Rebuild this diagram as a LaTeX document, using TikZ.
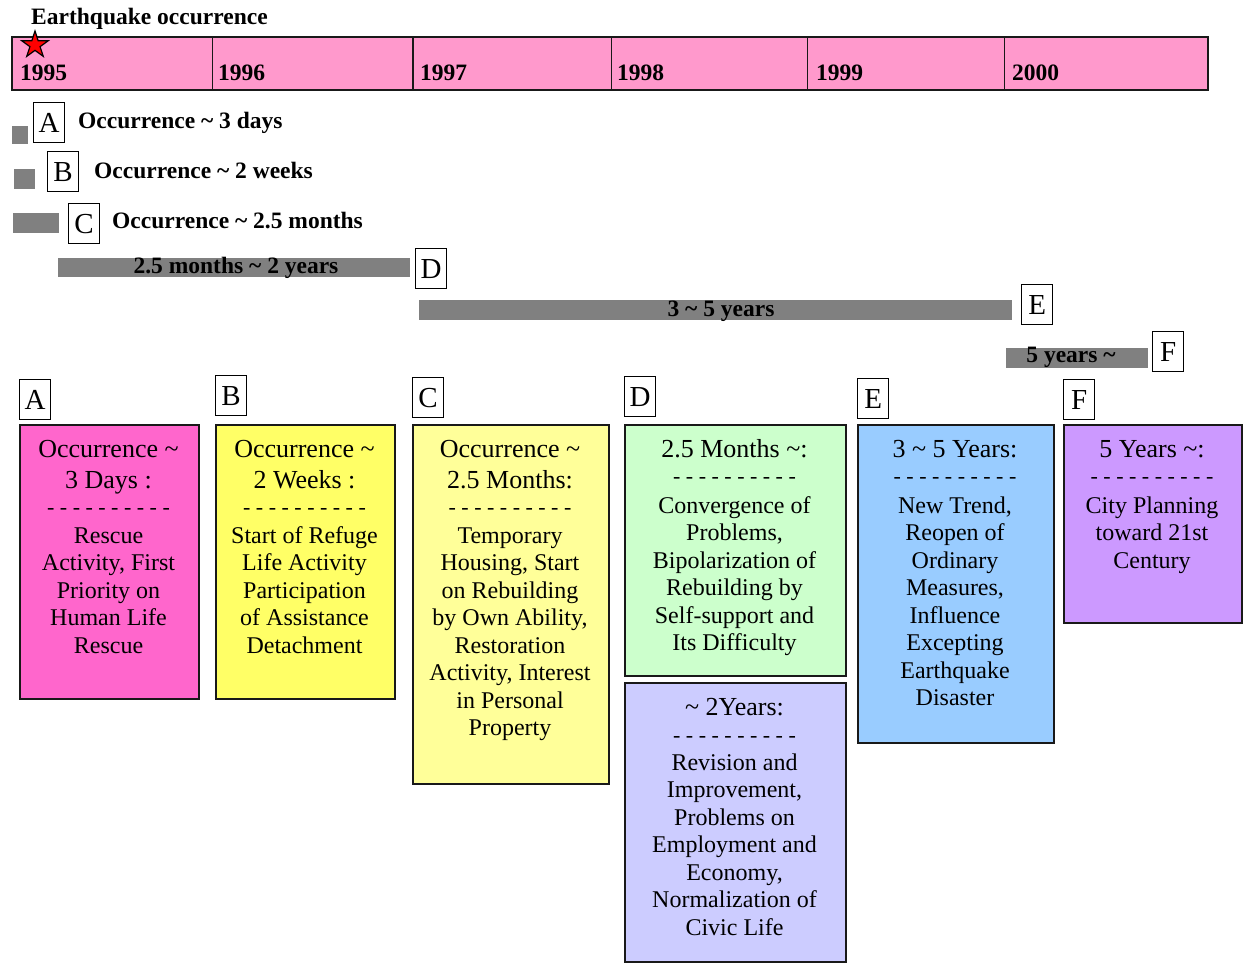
\documentclass[tikz,border=0pt]{standalone}
\usepackage{fontspec}
\setmainfont{Liberation Serif}
\usetikzlibrary{shapes.geometric}
\definecolor{timepink}{HTML}{FF99CC}
\definecolor{barGray}{HTML}{808080}
\definecolor{colA}{HTML}{FF66CC}
\definecolor{colB}{HTML}{FFFF66}
\definecolor{colC}{HTML}{FFFF99}
\definecolor{colDa}{HTML}{CCFFCC}
\definecolor{colDb}{HTML}{CCCCFF}
\definecolor{colE}{HTML}{99CCFF}
\definecolor{colF}{HTML}{CC99FF}
\newcommand\mytilde{\textasciitilde}
\begin{document}
\begin{tikzpicture}[x=1pt,y=-1pt,
  boldlabel/.style={font=\fontsize{23.5}{28}\selectfont\bfseries, inner sep=0pt, anchor=base west},
  barlabel/.style={font=\fontsize{23.5}{28}\selectfont\bfseries, inner sep=0pt, anchor=base},
  yearlabel/.style={font=\fontsize{23.5}{28}\selectfont\bfseries, inner sep=0pt, anchor=base west},
  graybar/.style={fill=barGray, inner sep=0pt, anchor=north west},
  letterbox/.style={draw=black, line width=1.3pt, fill=white, minimum width=31pt, minimum height=40pt,
    inner sep=0pt, text height=19pt, text depth=0pt, font=\fontsize{29}{30}\selectfont, anchor=north west},
  stagebox/.style={draw=black!90, line width=1.8pt, inner sep=0pt, anchor=north west},
  header/.style={font=\fontsize{26}{30}\selectfont, inner sep=0pt, anchor=base},
  bodytext/.style={font=\fontsize{24}{27.5}\selectfont, inner sep=0pt, anchor=base},
  dashline/.style={font=\fontsize{22}{26}\selectfont, inner sep=0pt, anchor=base},
]
\useasboundingbox (0,0) rectangle (1243,962);

% ---------- timeline ----------
\node[boldlabel] (title) at (31,24) {Earthquake occurrence};
\node[draw=black!90, line width=1.6pt, fill=timepink, inner sep=0pt, anchor=north west,
  minimum width=1196pt, minimum height=53pt] (timeline) at (11,36) {};
\foreach \xx in {212.5,413,611.5,807.5,1004.5}
  \draw[line width=1.6pt, black!90] (\xx,36) -- (\xx,89);
\node[yearlabel] (y1995) at (20,80) {1995};
\node[yearlabel] (y1996) at (218,80) {1996};
\node[yearlabel] (y1997) at (420,80) {1997};
\node[yearlabel] (y1998) at (617,80) {1998};
\node[yearlabel] (y1999) at (816,80) {1999};
\node[yearlabel] (y2000) at (1012,80) {2000};
\node[star, star points=5, star point ratio=2.618, fill=red, draw=black, line width=1.2pt,
  minimum size=28pt, inner sep=0pt] (quake) at (35,45) {};

% ---------- gray duration bars ----------
\node[graybar, minimum width=16pt, minimum height=18pt] (barA) at (12,126) {};
\node[letterbox] (topA) at (33,102) {A};
\node[boldlabel] (txtA) at (78,128) {Occurrence \mytilde\ 3 days};

\node[graybar, minimum width=21pt, minimum height=20pt] (barB) at (14,169) {};
\node[letterbox] (topB) at (47,151) {B};
\node[boldlabel] (txtB) at (94,178) {Occurrence \mytilde\ 2 weeks};

\node[graybar, minimum width=46pt, minimum height=20pt] (barC) at (13,213) {};
\node[letterbox] (topC) at (68,203) {C};
\node[boldlabel] (txtC) at (112,228) {Occurrence \mytilde\ 2.5 months};

\node[graybar, minimum width=352pt, minimum height=19pt] (barD) at (58,258) {};
\node[barlabel] (txtD) at (236,273) {2.5 months \mytilde\ 2 years};
\node[letterbox] (topD) at (415,248) {D};

\node[graybar, minimum width=593pt, minimum height=20pt] (barE) at (419,300) {};
\node[barlabel] (txtE) at (721,316) {3 \mytilde\ 5 years};
\node[letterbox] (topE) at (1021,284) {E};

\node[graybar, minimum width=142pt, minimum height=20pt] (barF) at (1006,348) {};
\node[barlabel] (txtF) at (1071,362) {5 years \mytilde};
\node[letterbox] (topF) at (1152,331) {F};

% ---------- stage boxes ----------
\node[letterbox] (labA) at (19,379) {A};
\node[letterbox] (labB) at (215,375) {B};
\node[letterbox] (labC) at (412,377) {C};
\node[letterbox] (labD) at (624,376) {D};
\node[letterbox] (labE) at (857,378) {E};
\node[letterbox] (labF) at (1063,379) {F};

\node[stagebox, fill=colA, minimum width=179pt, minimum height=274pt] (boxA) at (19,424) {};
\node[stagebox, fill=colB, minimum width=179pt, minimum height=274pt] (boxB) at (215,424) {};
\node[stagebox, fill=colC, minimum width=196pt, minimum height=359pt] (boxC) at (412,424) {};
\node[stagebox, fill=colDa, minimum width=221pt, minimum height=251pt] (boxD1) at (624,424) {};
\node[stagebox, fill=colDb, minimum width=221pt, minimum height=279pt] (boxD2) at (624,682) {};
\node[stagebox, fill=colE, minimum width=196pt, minimum height=318pt] (boxE) at (857,424) {};
\node[stagebox, fill=colF, minimum width=178pt, minimum height=198pt] (boxF) at (1063,424) {};

% box A
\node[header] (A-h1) at (108.5,457) {Occurrence \mytilde};
\node[header] (A-h2) at (108.5,488) {3 Days :};
\node[dashline] (A-d) at (108.5,514.5) {- - - - - - - - - -};
\foreach \t [count=\i] in {Rescue,{Activity, First},Priority on,Human Life,Rescue}
  \node[bodytext] (A-b\i) at (108.5,{543+27.5*(\i-1)}) {\t};

% box B
\node[header] (B-h1) at (304.5,457) {Occurrence \mytilde};
\node[header] (B-h2) at (304.5,488) {2 Weeks :};
\node[dashline] (B-d) at (304.5,514.5) {- - - - - - - - - -};
\foreach \t [count=\i] in {Start of Refuge,Life Activity,Participation,of Assistance,Detachment}
  \node[bodytext] (B-b\i) at (304.5,{543+27.5*(\i-1)}) {\t};

% box C
\node[header] (C-h1) at (510,457) {Occurrence \mytilde};
\node[header] (C-h2) at (510,488) {2.5 Months:};
\node[dashline] (C-d) at (510,514.5) {- - - - - - - - - -};
\foreach \t [count=\i] in {Temporary,{Housing, Start},on Rebuilding,{by Own Ability,},Restoration,{Activity, Interest},in Personal,Property}
  \node[bodytext] (C-b\i) at (510,{543+27.5*(\i-1)}) {\t};

% box D upper
\node[header] (D1-h1) at (734.5,457) {2.5 Months \mytilde:};
\node[dashline] (D1-d) at (734.5,483.5) {- - - - - - - - - -};
\foreach \t [count=\i] in {Convergence of,{Problems,},Bipolarization of,Rebuilding by,Self-support and,Its Difficulty}
  \node[bodytext] (D1-b\i) at (734.5,{513+27.5*(\i-1)}) {\t};

% box D lower
\node[header] (D2-h1) at (734.5,715) {\mytilde\ 2Years:};
\node[dashline] (D2-d) at (734.5,742.5) {- - - - - - - - - -};
\foreach \t [count=\i] in {Revision and,{Improvement,},Problems on,Employment and,{Economy,},Normalization of,Civic Life}
  \node[bodytext] (D2-b\i) at (734.5,{770+27.5*(\i-1)}) {\t};

% box E
\node[header] (E-h1) at (955,457) {3 \mytilde\ 5 Years:};
\node[dashline] (E-d) at (955,483.5) {- - - - - - - - - -};
\foreach \t [count=\i] in {{New Trend,},Reopen of,Ordinary,{Measures,},Influence,Excepting,Earthquake,Disaster}
  \node[bodytext] (E-b\i) at (955,{513+27.5*(\i-1)}) {\t};

% box F
\node[header] (F-h1) at (1152,457) {5 Years \mytilde:};
\node[dashline] (F-d) at (1152,483.5) {- - - - - - - - - -};
\foreach \t [count=\i] in {City Planning,toward 21st,Century}
  \node[bodytext] (F-b\i) at (1152,{513+27.5*(\i-1)}) {\t};
\end{tikzpicture}
\end{document}
